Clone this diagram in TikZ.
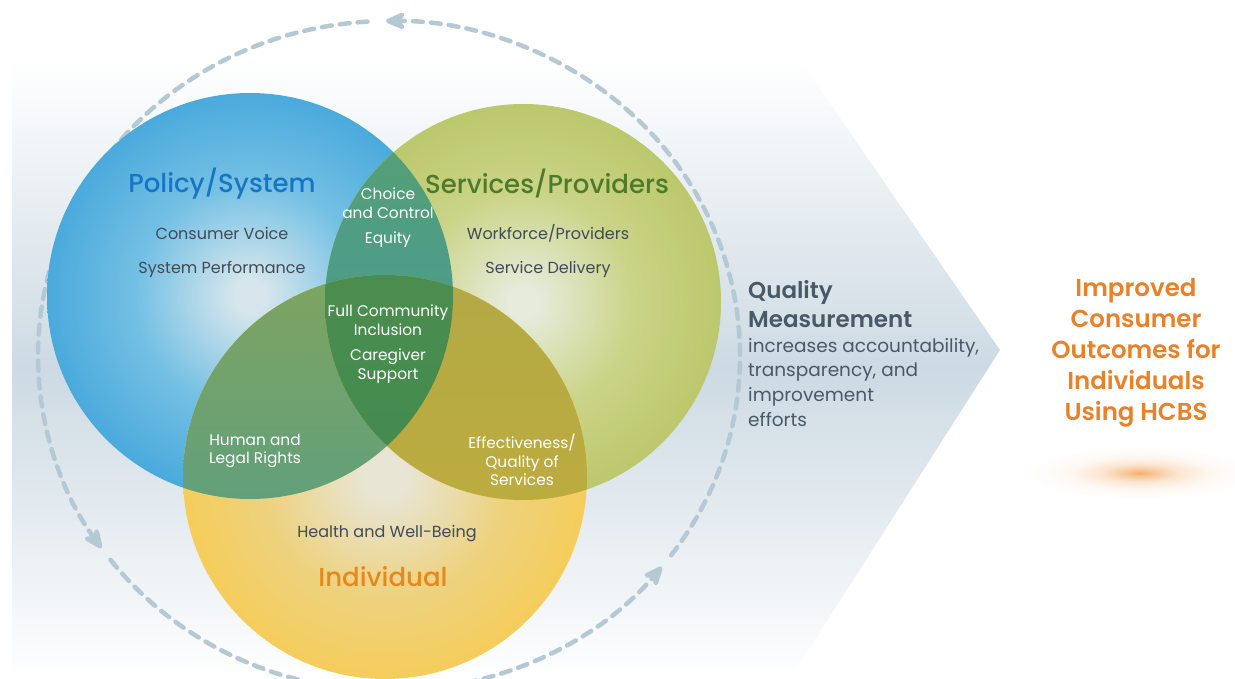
\documentclass[tikz,border=0pt]{standalone}
\usepackage{fontspec}
\setmainfont{Poppins}
\newfontfamily\mediumfont{Poppins Medium}
\newfontfamily\semifont{Poppins SemiBold}
\usetikzlibrary{arrows.meta}

\definecolor{policyblue}{HTML}{1675C5}
\definecolor{servicegreen}{HTML}{4E7A2A}
\definecolor{indivorange}{HTML}{E8871A}
\definecolor{outcomeorange}{HTML}{E8822A}
\definecolor{itemgray}{HTML}{3F4B55}
\definecolor{qmslate}{HTML}{4A5968}
\definecolor{loopgray}{HTML}{B5C9D5}
\definecolor{bandmid}{HTML}{CDDAE3}

\definecolor{bluecore}{HTML}{D6E6EC}
\definecolor{bluemid}{HTML}{74C0E4}
\definecolor{blueedge}{HTML}{4AAADC}
\definecolor{greencore}{HTML}{E6EBDA}
\definecolor{greenmid}{HTML}{CAD487}
\definecolor{greenedge}{HTML}{BCC86C}
\definecolor{yellowcore}{HTML}{E8E5D5}
\definecolor{yellowmid}{HTML}{EDD27E}
\definecolor{yellowedge}{HTML}{F5CD5B}
\definecolor{glowcore}{HTML}{F2A35A}

% overlap colours
\definecolor{pstop}{HTML}{58A070}
\definecolor{psbot}{HTML}{3E98A6}
\definecolor{pitop}{HTML}{7EA460}
\definecolor{pimid}{HTML}{57966A}
\definecolor{pibot}{HTML}{4C9C90}
\definecolor{sitop}{HTML}{B3A944}
\definecolor{sibot}{HTML}{C3AE3C}
\definecolor{alltop}{HTML}{4B8D4E}
\definecolor{allbot}{HTML}{3B8852}

% the 25bp ring of a radial shading sits on the rim of the shaded circle
\pgfdeclareradialshading{bluedisc}{\pgfpoint{0bp}{0bp}}{color(0bp)=(bluecore); color(2bp)=(bluecore); color(14bp)=(bluemid); color(25bp)=(blueedge); color(50bp)=(blueedge)}
\pgfdeclareradialshading{greendisc}{\pgfpoint{0bp}{0bp}}{color(0bp)=(greencore); color(2bp)=(greencore); color(14bp)=(greenmid); color(25bp)=(greenedge); color(50bp)=(greenedge)}
\pgfdeclareradialshading{yellowdisc}{\pgfpoint{0bp}{0bp}}{color(0bp)=(yellowcore); color(2.5bp)=(yellowcore); color(15bp)=(yellowmid); color(25bp)=(yellowedge); color(50bp)=(yellowedge)}
\pgfdeclareradialshading{orangeglow}{\pgfpoint{0bp}{0bp}}{color(0bp)=(glowcore!85!white); color(3bp)=(glowcore!62!white); color(8bp)=(glowcore!28!white); color(15bp)=(glowcore!8!white); color(24bp)=(white); color(50bp)=(white)}

\begin{document}
\begin{tikzpicture}[x=1pt,y=-1pt]
  \tikzset{
    title/.style={inner sep=0pt, font=\mediumfont\fontsize{26}{30}\selectfont},
    item/.style={inner sep=0pt, text=itemgray, font=\fontsize{16}{19}\selectfont},
    lens/.style={inner sep=0pt, text=white, align=center, font=\fontsize{15.4}{18.5}\selectfont},
    loop/.style={draw=loopgray, line width=4.5pt, dash pattern=on 10pt off 8pt, line cap=round,
      -{Stealth[length=26pt,width=22pt,inset=8pt,round=false]}},
  }
  \useasboundingbox (0,0) rectangle (1235,679);

  % pale band with the arrow point
  \shade[top color=white, bottom color=white, middle color=bandmid]
    (12,60) -- (800,60) -- (1000,350) -- (790,679) -- (12,679) -- cycle;

  % feedback loop round the circles
  \coordinate (loopc) at (389,356);
  \draw[loop] ([shift={(93.5:351pt and 335pt)}]loopc) arc[start angle=93.5, end angle=215, x radius=351pt, y radius=335pt];
  \draw[loop] ([shift={(217.5:351pt and 335pt)}]loopc) arc[start angle=217.5, end angle=321, x radius=351pt, y radius=335pt];
  \draw[loop] ([shift={(323.5:351pt and 335pt)}]loopc) arc[start angle=323.5, end angle=450.5, x radius=351pt, y radius=335pt];

  % the three circles
  \coordinate (policyc) at (250,296);
  \coordinate (servicec) at (523,302);
  \coordinate (indivc) at (385,477);
  \shade[shading=bluedisc] (policyc) circle[radius=203pt];
  \shade[shading=greendisc] (servicec) circle[radius=198pt];
  \shade[shading=yellowdisc] (indivc) circle[radius=202pt];

  % overlaps
  \begin{scope}
    \clip (policyc) circle[radius=203pt];
    \shade[top color=pstop, bottom color=psbot] (servicec) circle[radius=198pt];
    \shade[top color=pitop, middle color=pimid, bottom color=pibot] (indivc) circle[radius=202pt];
  \end{scope}
  \begin{scope}
    \clip (servicec) circle[radius=198pt];
    \shade[top color=sitop, bottom color=sibot] (indivc) circle[radius=202pt];
    \clip (policyc) circle[radius=203pt];
    \shade[top color=alltop, bottom color=allbot] (indivc) circle[radius=202pt];
  \end{scope}

  % labels
  \node[title, text=policyblue] (policy) at (222,184) {Policy/System};
  \node[item] (voice) at (222,233) {Consumer Voice};
  \node[item] (perf) at (222,269) {System Performance};

  \node[title, text=servicegreen] (service) at (547,184) {Services/Providers};
  \node[item] (workforce) at (548,233) {Workforce/Providers};
  \node[item] (delivery) at (548,269) {Service Delivery};

  \node[lens] (choice) at (388,203) {Choice\\and Control};
  \node[lens] (equity) at (388,240) {Equity};
  \node[lens] (inclusion) at (388,320) {Full Community\\Inclusion};
  \node[lens] (caregiver) at (388,366) {Caregiver\\Support};
  \node[lens] (rights) at (255,451) {Human and\\Legal Rights};
  \node[lens] (effect) at (522,460) {Effectiveness/\\Quality of\\Services};

  \node[item] (health) at (387,534) {Health and Well-Being};
  \node[title, text=indivorange] (indiv) at (383,577) {Individual};

  \node[inner sep=0pt, anchor=north west, align=left, text=qmslate,
    font=\semifont\fontsize{23}{29}\selectfont] (qm) at (748,280) {Quality\\Measurement};
  \node[inner sep=0pt, anchor=north west, align=left, text=qmslate,
    font=\fontsize{18.5}{24.7}\selectfont] (qmtext) at (748,338)
    {increases accountability,\\transparency, and\\improvement\\efforts};

  % outcome with its glow
  \begin{scope}[shift={(1140,473)}, yscale=0.23]
    \shade[shading=orangeglow] (0,0) circle[radius=118pt];
  \end{scope}
  \node[inner sep=0pt, align=center, text=outcomeorange, font=\semifont\fontsize{24.5}{31}\selectfont] (outcome) at (1136,353)
    {Improved\\Consumer\\Outcomes for\\Individuals\\Using HCBS};
\end{tikzpicture}
\end{document}
